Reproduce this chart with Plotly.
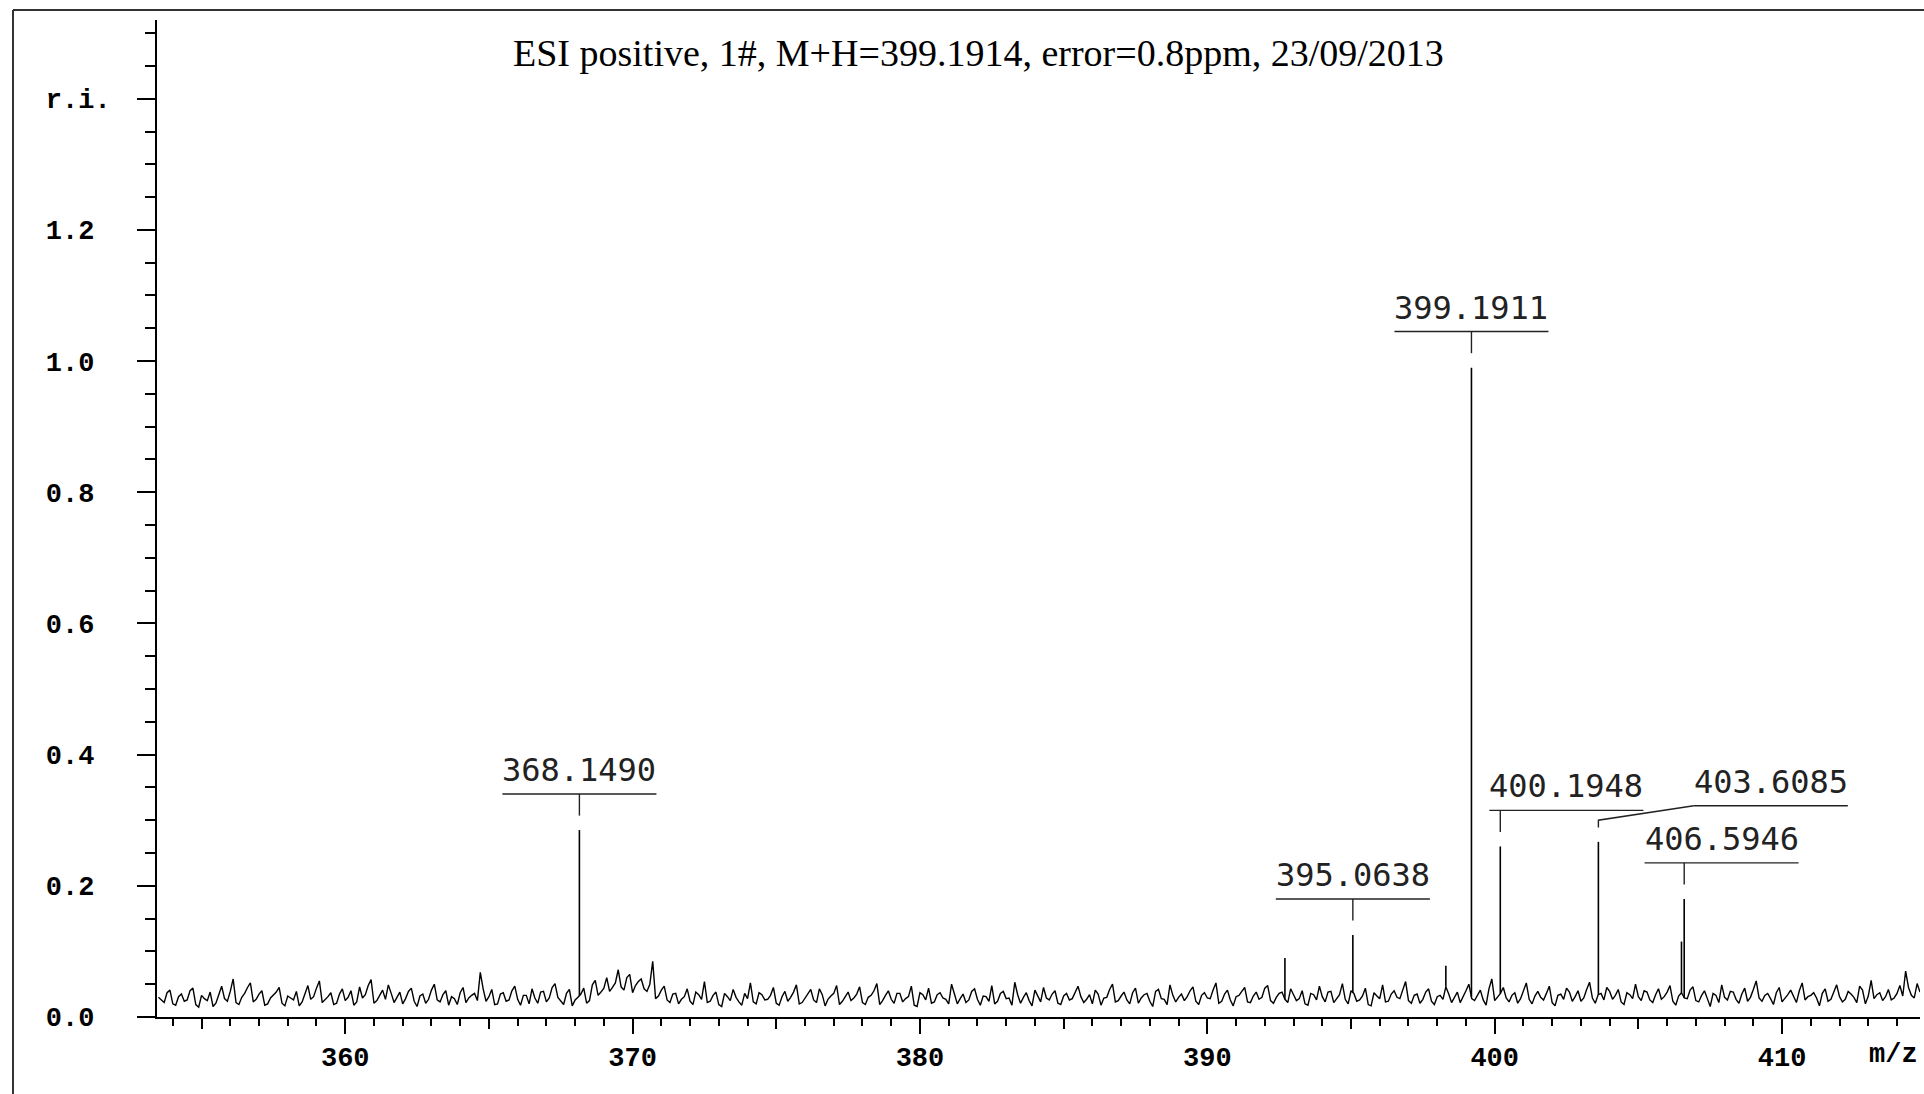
import numpy as np
import plotly.graph_objects as go

# baseline of the spectrum (relative intensity); two interleaved runs of readings,
# run A at 353.5, 353.7, ... and run B at 353.6, 353.8, ...
mz_start = 353.5
mz_step = 0.2
baseline_a = [
    0.030, 0.022, 0.041, 0.018, 0.035, 0.026, 0.044, 0.015, 0.028, 0.038, 0.021, 0.047, 0.024, 0.058, 0.019, 0.036, 0.052, 0.027, 0.040, 0.020,
    0.033, 0.045, 0.017, 0.029, 0.039, 0.023, 0.048, 0.031, 0.055, 0.026, 0.037, 0.021, 0.043, 0.030, 0.018, 0.046, 0.034, 0.057, 0.025, 0.041,
    0.049, 0.022, 0.038, 0.028, 0.044, 0.016, 0.035, 0.027, 0.050, 0.023, 0.040, 0.031, 0.019, 0.045, 0.029, 0.036, 0.068, 0.024, 0.042, 0.020,
    0.037, 0.026, 0.047, 0.018, 0.033, 0.043, 0.021, 0.039, 0.029, 0.051, 0.024, 0.036, 0.017, 0.030, 0.044, 0.025, 0.056, 0.038, 0.060, 0.045,
    0.072, 0.041, 0.065, 0.048, 0.058, 0.039, 0.085, 0.032, 0.047, 0.022, 0.036, 0.027, 0.043, 0.019, 0.034, 0.054, 0.024, 0.038, 0.016, 0.031,
    0.042, 0.023, 0.036, 0.052, 0.020, 0.034, 0.027, 0.045, 0.018, 0.039, 0.030, 0.049, 0.022, 0.035, 0.026, 0.043, 0.017, 0.032, 0.048, 0.024,
    0.038, 0.029, 0.046, 0.019, 0.033, 0.051, 0.025, 0.040, 0.021, 0.036, 0.028, 0.047, 0.016, 0.034, 0.044, 0.023, 0.037, 0.027, 0.050, 0.020,
    0.035, 0.026, 0.043, 0.018, 0.031, 0.048, 0.024, 0.039, 0.029, 0.053, 0.021, 0.037, 0.017, 0.033, 0.045, 0.026, 0.040, 0.019, 0.036, 0.028,
    0.047, 0.022, 0.034, 0.041, 0.018, 0.030, 0.050, 0.025, 0.038, 0.020, 0.044, 0.029, 0.036, 0.016, 0.042, 0.027, 0.049, 0.023, 0.035, 0.031,
    0.046, 0.019, 0.037, 0.028, 0.052, 0.024, 0.041, 0.017, 0.033, 0.045, 0.022, 0.038, 0.030, 0.048, 0.021, 0.036, 0.027, 0.043, 0.025, 0.040,
    0.018, 0.034, 0.047, 0.023, 0.039, 0.029, 0.051, 0.020, 0.036, 0.026, 0.044, 0.017, 0.032, 0.049, 0.024, 0.040, 0.028, 0.054, 0.021, 0.035,
    0.027, 0.043, 0.019, 0.033, 0.046, 0.022, 0.038, 0.030, 0.050, 0.025, 0.041, 0.018, 0.058, 0.031, 0.045, 0.023, 0.037, 0.028, 0.052, 0.020,
    0.039, 0.026, 0.047, 0.017, 0.035, 0.044, 0.024, 0.040, 0.029, 0.053, 0.021, 0.036, 0.045, 0.027, 0.042, 0.019, 0.034, 0.050, 0.025, 0.038,
    0.022, 0.043, 0.031, 0.048, 0.018, 0.037, 0.028, 0.046, 0.023, 0.040, 0.016, 0.033, 0.049, 0.026, 0.038, 0.021, 0.044, 0.030, 0.055, 0.024,
    0.036, 0.019, 0.045, 0.028, 0.041, 0.022, 0.052, 0.031, 0.037, 0.017, 0.043, 0.027, 0.049, 0.023, 0.039, 0.030, 0.047, 0.020, 0.056, 0.034,
    0.025, 0.042, 0.029, 0.048, 0.070, 0.033, 0.051,
]
baseline_b = [
    0.026, 0.037, 0.020, 0.031, 0.024, 0.040, 0.019, 0.033, 0.025, 0.016, 0.034, 0.028, 0.039, 0.022, 0.030, 0.045, 0.023, 0.035, 0.018, 0.029,
    0.038, 0.021, 0.032, 0.026, 0.017, 0.036, 0.027, 0.044, 0.022, 0.031, 0.019, 0.035, 0.025, 0.040, 0.023, 0.029, 0.048, 0.021, 0.033, 0.027,
    0.036, 0.030, 0.020, 0.039, 0.024, 0.032, 0.021, 0.041, 0.026, 0.034, 0.018, 0.028, 0.037, 0.022, 0.033, 0.025, 0.043, 0.031, 0.019, 0.035,
    0.024, 0.040, 0.027, 0.033, 0.020, 0.029, 0.038, 0.023, 0.045, 0.030, 0.019, 0.042, 0.026, 0.035, 0.021, 0.049, 0.033, 0.044, 0.039, 0.052,
    0.046, 0.060, 0.037, 0.054, 0.043, 0.050, 0.028, 0.041, 0.026, 0.035, 0.020, 0.031, 0.024, 0.038, 0.027, 0.022, 0.033, 0.019, 0.036, 0.025,
    0.030, 0.018, 0.028, 0.023, 0.037, 0.026, 0.033, 0.021, 0.031, 0.024, 0.038, 0.020, 0.029, 0.042, 0.022, 0.034, 0.027, 0.036, 0.019, 0.032,
    0.025, 0.035, 0.022, 0.030, 0.040, 0.019, 0.033, 0.027, 0.036, 0.023, 0.031, 0.018, 0.037, 0.026, 0.021, 0.034, 0.029, 0.020, 0.035, 0.028,
    0.022, 0.039, 0.027, 0.032, 0.024, 0.020, 0.036, 0.028, 0.018, 0.034, 0.030, 0.025, 0.041, 0.023, 0.029, 0.035, 0.021, 0.032, 0.026, 0.038,
    0.031, 0.027, 0.020, 0.035, 0.029, 0.042, 0.023, 0.032, 0.026, 0.037, 0.021, 0.034, 0.024, 0.039, 0.028, 0.019, 0.033, 0.030, 0.025, 0.040,
    0.024, 0.033, 0.029, 0.041, 0.021, 0.035, 0.026, 0.031, 0.039, 0.023, 0.032, 0.027, 0.044, 0.025, 0.030, 0.038, 0.022, 0.034, 0.028, 0.020,
    0.036, 0.026, 0.031, 0.038, 0.022, 0.034, 0.027, 0.040, 0.024, 0.032, 0.019, 0.037, 0.028, 0.023, 0.035, 0.030, 0.042, 0.025, 0.033, 0.021,
    0.038, 0.024, 0.031, 0.027, 0.035, 0.030, 0.022, 0.040, 0.028, 0.034, 0.026, 0.043, 0.025, 0.036, 0.029, 0.033, 0.021, 0.039, 0.027, 0.032,
    0.030, 0.036, 0.022, 0.033, 0.027, 0.038, 0.031, 0.024, 0.042, 0.029, 0.034, 0.026, 0.039, 0.033, 0.023, 0.037, 0.028, 0.031, 0.040, 0.026,
    0.034, 0.027, 0.038, 0.024, 0.032, 0.029, 0.041, 0.025, 0.033, 0.028, 0.036, 0.022, 0.030, 0.039, 0.027, 0.035, 0.024, 0.042, 0.029, 0.033,
    0.028, 0.037, 0.023, 0.034, 0.030, 0.040, 0.026, 0.033, 0.029, 0.036, 0.024, 0.038, 0.031, 0.027, 0.035, 0.022, 0.041, 0.032, 0.028, 0.037,
    0.031, 0.026, 0.036, 0.032, 0.045, 0.029, 0.038,
]

# centroid peaks standing out of the baseline
peak_mz = [368.1490, 392.70, 395.0638, 398.30, 399.1911, 400.1948, 403.6085, 406.50, 406.5946]
peak_int = [0.285, 0.090, 0.125, 0.078, 0.990, 0.260, 0.267, 0.115, 0.180]
peak_label = ['368.1490', '', '395.0638', '', '399.1911', '400.1948', '403.6085', '', '406.5946']

x_tickvals = [360, 370, 380, 390, 400, 410]
x_midticks = [355, 365, 375, 385, 395, 405]
y_tickvals = [0.0, 0.2, 0.4, 0.6, 0.8, 1.0, 1.2, 1.4]
y_ticktext = ['0.0', '0.2', '0.4', '0.6', '0.8', '1.0', '1.2', 'r.i.']

title = 'ESI positive, 1#, M+H=399.1914, error=0.8ppm, 23/09/2013'

# label placement (m/z shift of the label centre from its peak)
label_shift = {'400.1948': 2.3, '403.6085': 6.0, '406.5946': 1.3}
LABEL_HALF = 2.68
UNDERLINE_GAP = 0.055
TICK_GAP = 0.022

FONT_TICK = dict(family='Liberation Mono', size=27, color='black', weight='bold')
FONT_PEAK = dict(family='DejaVu Sans Mono', size=32, color='#222222')

W, H = 1924, 1094
L, R, T, B = 157, 4, 20, 77


def px_x(px):
    return (px - L) / (W - L - R)


def px_y(py):
    return (H - B - py) / (H - T - B)


n = len(baseline_a)
bx = np.empty(2 * n)
by = np.empty(2 * n)
bx[0::2] = mz_start + mz_step * np.arange(n)
bx[1::2] = mz_start + mz_step / 2 + mz_step * np.arange(n)
by[0::2] = baseline_a
by[1::2] = baseline_b

fig = go.Figure()

fig.add_trace(go.Scatter(
    x=bx, y=by, mode='lines',
    line=dict(color='black', width=1.4), hoverinfo='skip'
))

# peak sticks rise from the local baseline
sx, sy = [], []
for m, h in zip(peak_mz, peak_int):
    sx += [m, m, None]
    sy += [float(np.interp(m, bx, by)), h, None]
fig.add_trace(go.Scatter(x=sx, y=sy, mode='lines', line=dict(color='black', width=1.6), hoverinfo='skip'))

# label underlines and leaders
lx, ly = [], []
for m, h, lab in zip(peak_mz, peak_int, peak_label):
    if not lab:
        continue
    c = m + label_shift.get(lab, 0.0)
    u0, u1 = c - LABEL_HALF, c + LABEL_HALF
    uy = h + UNDERLINE_GAP
    lx += [u0, u1, None]
    ly += [uy, uy, None]
    if u0 <= m <= u1:
        lx += [m, m, None]
        ly += [h + TICK_GAP, uy, None]
    else:
        lx += [m, m, u0, None]
        ly += [h + TICK_GAP, h + 0.033, uy, None]
    fig.add_annotation(
        x=c, y=uy, text=lab, showarrow=False, yanchor='bottom', yshift=3,
        font=FONT_PEAK
    )
fig.add_trace(go.Scatter(x=lx, y=ly, mode='lines', line=dict(color='#222222', width=1.4), hoverinfo='skip'))

# overlay axis only for the medium ticks at the fives
fig.add_trace(go.Scatter(x=[], y=[], xaxis='x2', hoverinfo='skip'))

fig.add_annotation(
    text=title, xref='paper', yref='paper', x=px_x(978), y=px_y(53),
    xanchor='center', yanchor='middle',
    showarrow=False, font=dict(family='Liberation Serif', size=38, color='black')
)
fig.add_annotation(
    text='m/z', xref='paper', yref='paper', x=1.0, y=px_y(1055),
    xanchor='right', yanchor='middle', showarrow=False, font=FONT_TICK
)

# page frame, left and top
fig.add_shape(type='line', xref='paper', yref='paper', x0=px_x(13), x1=px_x(13), y0=px_y(H), y1=px_y(10),
              line=dict(color='#333333', width=2))
fig.add_shape(type='line', xref='paper', yref='paper', x0=px_x(13), x1=px_x(W), y0=px_y(10), y1=px_y(10),
              line=dict(color='#333333', width=2))

fig.update_layout(
    width=W, height=H,
    margin=dict(l=L, r=R, t=T, b=B),
    paper_bgcolor='white', plot_bgcolor='white',
    showlegend=False,
    xaxis=dict(
        range=[353.45, 414.8], showgrid=False, zeroline=False,
        showline=True, linecolor='black', linewidth=2,
        ticks='outside', tickvals=x_tickvals, ticklen=15, tickwidth=1.5, tickcolor='black',
        tickfont=FONT_TICK, ticklabelstandoff=0,
        minor=dict(dtick=1, tick0=360, ticks='outside', ticklen=7, tickwidth=1.5, tickcolor='black'),
    ),
    xaxis2=dict(
        overlaying='x', matches='x', anchor='y', side='bottom', showgrid=False, zeroline=False,
        showline=False, ticks='outside', tickvals=x_midticks, ticklen=11, tickwidth=1.5,
        tickcolor='black', showticklabels=False,
    ),
    yaxis=dict(
        range=[0, 1.52], showgrid=False, zeroline=False,
        showline=True, linecolor='black', linewidth=2,
        ticks='outside', tickvals=y_tickvals, ticktext=[t.ljust(4, '\u00a0') for t in y_ticktext],
        ticklen=18, tickwidth=1.5, tickcolor='black',
        tickfont=FONT_TICK, ticklabelstandoff=21,
        minor=dict(dtick=0.05, tick0=0, ticks='outside', ticklen=10, tickwidth=1.5, tickcolor='black'),
    ),
)

# the page has a default body margin; drop it so the figure sits at the window corner
fig.write_html('out.html', config={'displayModeBar': False},
               post_script="document.body.style.margin='0';")
